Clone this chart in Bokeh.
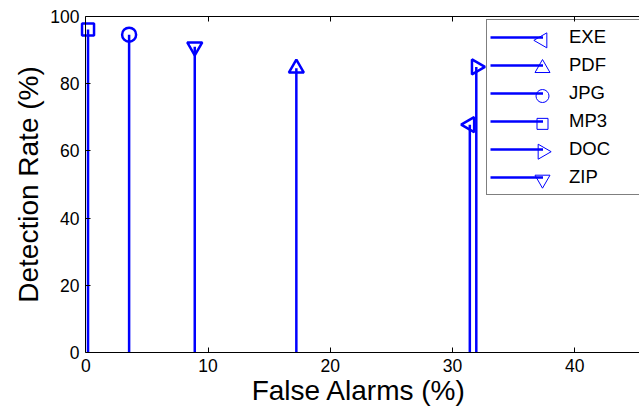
import math
from bokeh.plotting import figure
from bokeh.models import (Range1d, LinearAxis, Legend, LegendItem, ColumnDataSource,
                          FixedTicker, CustomLabelingPolicy)
from bokeh.embed import file_html
from bokeh.resources import INLINE

# ---- data ----
categories = ["EXE", "PDF", "JPG", "MP3", "DOC", "ZIP"]
false_alarms = [31.41, 17.22, 3.54, 0.18, 31.94, 8.91]      # %
detection_rates = [67.8, 84.6, 94.6, 96.1, 85.0, 91.0]       # %
x_ticks = [0, 10, 20, 30, 40]
y_ticks = [0, 20, 40, 60, 80, 100]

# ---- style: (marker, angle, size in plot, size in legend) ----
BLUE = "#0000FF"
FONT = "Liberation Sans"
marker_style = {
    "EXE": ("triangle", math.pi / 2, 15, 15),
    "PDF": ("triangle", 0.0, 15, 15),
    "JPG": ("circle", 0.0, 14, 13),
    "MP3": ("square", 0.0, 12, 11),
    "DOC": ("triangle", -math.pi / 2, 15, 15),
    "ZIP": ("inverted_triangle", 0.0, 15, 15),
}

W, H = 639, 408
BORDER_L, BORDER_T, BORDER_B = 78, 14, 56
X_MIN, X_MAX = -0.6, 45.29
Y_MIN, Y_MAX = 0, 100
FRAME_W = W - BORDER_L
FRAME_H = H - BORDER_T - BORDER_B

p = figure(width=W, height=H, output_backend="svg", toolbar_location=None,
           x_range=Range1d(X_MIN, X_MAX), y_range=Range1d(Y_MIN, Y_MAX),
           min_border_left=BORDER_L, min_border_right=0, min_border_top=BORDER_T,
           min_border_bottom=BORDER_B, outline_line_color=None,
           background_fill_color="white", border_fill_color="white")
p.xgrid.visible = False
p.ygrid.visible = False

no_labels = CustomLabelingPolicy(
    code="const n = indices.size; for (let i = 0; i < n; i++) indices.unset(i); return indices")

# bottom axis
p.xaxis.ticker = FixedTicker(ticks=x_ticks)
p.xaxis.axis_label = "False Alarms (%)"
p.xaxis.bounds = (0, X_MAX)

# left axis: labels only (line/ticks drawn by the axis fixed at x = 0)
p.yaxis.ticker = FixedTicker(ticks=y_ticks)
p.yaxis.axis_label = "Detection Rate (%)"
p.yaxis.axis_line_color = None
p.yaxis.major_tick_line_color = None

y_line_axis = LinearAxis(ticker=FixedTicker(ticks=y_ticks), fixed_location=0,
                         major_label_policy=no_labels)
p.add_layout(y_line_axis, "left")

top_axis = LinearAxis(ticker=FixedTicker(ticks=x_ticks), bounds=(0, X_MAX),
                      major_label_policy=no_labels)
p.add_layout(top_axis, "above")

for ax in p.axis:
    ax.major_tick_in = 5
    ax.major_tick_out = 0
    ax.minor_tick_in = 0
    ax.minor_tick_out = 0
    ax.axis_line_width = 1
    ax.major_label_text_font = FONT
    ax.major_label_text_color = "black"
    ax.major_label_text_font_size = "17.5px"
    ax.axis_label_text_font = FONT
    ax.axis_label_text_font_style = "normal"
    ax.axis_label_text_color = "black"
    ax.axis_label_text_font_size = "28px"
    ax.major_label_standoff = 6

p.xaxis.axis_label_standoff = 0
p.yaxis.major_label_standoff = -1
p.yaxis.axis_label_standoff = 3
top_axis.major_label_standoff = 0
y_line_axis.major_label_standoff = 0

# ---- legend geometry ----
LEG_X, LEG_Y = 408, 157          # frame-relative, bottom-left of box
PAD, ROW_H, GLYPH_W = 3, 28, 53
n = len(categories)
leg_h = 2 * PAD + n * ROW_H
frame_bottom = H - BORDER_B
box_top = frame_bottom - LEG_Y - leg_h
mark_cx = BORDER_L + LEG_X + PAD + GLYPH_W


def to_data(sx, sy):
    """canvas pixel -> data coordinates (fixed ranges), for legend decorations"""
    dx = X_MIN + (sx - BORDER_L) / FRAME_W * (X_MAX - X_MIN)
    dy = Y_MIN + (frame_bottom - sy) / FRAME_H * (Y_MAX - Y_MIN)
    return dx, dy


items = []
for cat, fx, dr in zip(categories, false_alarms, detection_rates):
    mk, ang, sz, _ = marker_style[cat]
    src = ColumnDataSource(dict(x=[fx], y=[dr], y0=[0]))
    stem = p.segment(x0="x", y0="y0", x1="x", y1="y", source=src,
                     line_color=BLUE, line_width=2.5)
    p.scatter(x="x", y="y", source=src, marker=mk, angle=ang, size=sz,
              line_color=BLUE, line_width=2.5, fill_color=None)
    items.append(LegendItem(label=cat, renderers=[stem]))

legend = Legend(items=items, location=(LEG_X, LEG_Y), orientation="vertical",
                border_line_color="black", border_line_width=1,
                background_fill_color="white", background_fill_alpha=0,
                padding=PAD, spacing=0, margin=0,
                glyph_height=ROW_H, glyph_width=GLYPH_W, label_standoff=26,
                label_height=20, label_width=80,
                label_text_font=FONT, label_text_font_size="18.5px",
                label_text_color="black")
p.add_layout(legend)

# legend markers at the right end of each legend line (MATLAB stem style)
for i, cat in enumerate(categories):
    mk, ang, _, lsz = marker_style[cat]
    cy = box_top + PAD + ROW_H / 2 + ROW_H * i
    lx, ly = to_data(mark_cx, cy)
    p.scatter(x=[lx], y=[ly], marker=mk, angle=ang, size=lsz,
              line_color=BLUE, line_width=1, fill_color=None, level="overlay")

open("out.html", "w").write(file_html(p, INLINE))
